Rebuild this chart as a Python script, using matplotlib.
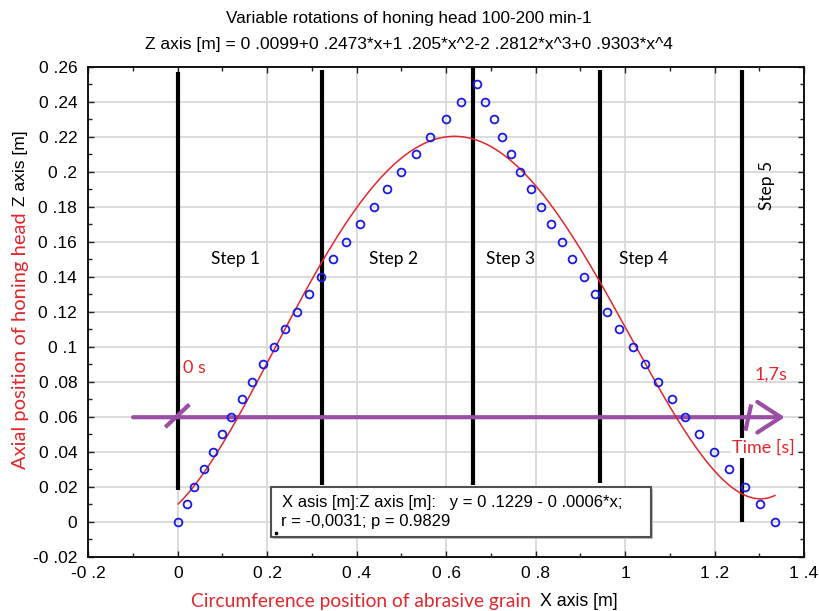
import matplotlib
matplotlib.use('Agg')
import matplotlib.pyplot as plt
import numpy as np
from matplotlib.patches import Rectangle

# ---- data ----
x_up = [0.001, 0.020, 0.037, 0.058, 0.079, 0.099, 0.120, 0.143, 0.166, 0.191,
        0.215, 0.240, 0.266, 0.293, 0.320, 0.347, 0.377, 0.407, 0.438, 0.468,
        0.500, 0.532, 0.565, 0.599, 0.634, 0.669]
z_up = [0.00, 0.01, 0.02, 0.03, 0.04, 0.05, 0.06, 0.07, 0.08, 0.09,
        0.10, 0.11, 0.12, 0.13, 0.14, 0.15, 0.16, 0.17, 0.18, 0.19,
        0.20, 0.21, 0.22, 0.23, 0.24, 0.25]
x_down = [0.687, 0.706, 0.725, 0.745, 0.766, 0.789, 0.812, 0.834, 0.859, 0.882,
          0.908, 0.933, 0.959, 0.987, 1.017, 1.045, 1.074, 1.104, 1.135, 1.165,
          1.199, 1.233, 1.267, 1.301, 1.335]
z_down = [0.24, 0.23, 0.22, 0.21, 0.20, 0.19, 0.18, 0.17, 0.16, 0.15,
          0.14, 0.13, 0.12, 0.11, 0.10, 0.09, 0.08, 0.07, 0.06, 0.05,
          0.04, 0.03, 0.02, 0.01, 0.00]
poly_coef = [0.0099, 0.2473, 1.205, -2.2812, 0.9303]  # from the title

step_x = [0.0, 0.322, 0.659, 0.944, 1.262]
step_bottom = [0.018, 0.021, 0.021, 0.022, 0.0]
step_top = [0.257, 0.258, 0.259, 0.258, 0.258]
step_labels = ['Step 1', 'Step 2', 'Step 3', 'Step 4', 'Step 5']
step_label_x = [0.128, 0.483, 0.745, 1.042, 1.318]
step_label_y = [0.150, 0.150, 0.150, 0.150, 0.192]

time_y = 0.0597
time_start = -0.10
time_end = 1.357

xticks = [-0.2, 0.0, 0.2, 0.4, 0.6, 0.8, 1.0, 1.2, 1.4]
xtick_labels = ['-0 .2', '0', '0 .2', '0 .4', '0 .6', '0 .8', '1', '1 .2', '1 .4']
yticks = [-0.02, 0.0, 0.02, 0.04, 0.06, 0.08, 0.10, 0.12, 0.14, 0.16, 0.18,
          0.20, 0.22, 0.24, 0.26]
ytick_labels = ['-0 .02', '0', '0 .02', '0 .04', '0 .06', '0 .08', '0 .1',
                '0 .12', '0 .14', '0 .16', '0 .18', '0 .2', '0 .22', '0 .24',
                '0 .26']

title1 = 'Variable rotations of honing head 100-200 min-1'
title2 = 'Z axis [m] = 0 .0099+0 .2473*x+1 .205*x^2-2 .2812*x^3+0 .9303*x^4'
box_line1 = 'X asis [m]:Z axis [m]:   y = 0 .1229 - 0 .0006*x;'
box_line2 = 'r = -0,0031; p = 0.9829'

RED = '#e2262b'
PURPLE = '#9a4ea5'
BLUE = '#1a1ae6'
NARROW = ['Liberation Sans Narrow', 'Liberation Sans', 'DejaVu Sans']
ARIAL = ['Liberation Sans', 'DejaVu Sans']
CALIBRI = ['Lato', 'DejaVu Sans']

fig = plt.figure(figsize=(8.19, 6.11), dpi=100)
W, H = 819, 611
ax = fig.add_axes([88.3 / W, 1 - 556.7 / H, (804 - 88.3) / W, (556.7 - 66.7) / H])
ax.set_xlim(-0.2, 1.4)
ax.set_ylim(-0.02, 0.26)

ax.set_xticks(xticks)
ax.set_xticklabels(xtick_labels, family=ARIAL, fontsize=12.5)
ax.set_yticks(yticks)
ax.set_yticklabels(ytick_labels, family=ARIAL, fontsize=12.5)
ax.set_xticks(np.arange(-0.1, 1.4, 0.2), minor=True)
ax.set_yticks(np.arange(-0.01, 0.26, 0.02), minor=True)
ax.tick_params(which='both', direction='in', top=True, right=True, width=1, color='#222222')
ax.tick_params(axis='x', which='major', length=4, pad=7)
ax.tick_params(axis='y', which='major', length=4, pad=8)
ax.tick_params(which='minor', length=3)
ax.grid(True, which='major', color='#d9d9d9', lw=1.3)
ax.set_axisbelow(True)
for s in ax.spines.values():
    s.set_linewidth(1.4)
    s.set_color('#111111')

# step lines
ax.vlines(step_x, step_bottom, step_top, colors='black', lw=3, zorder=2)

# purple time arrow
ax.annotate('', xy=(time_end, time_y), xytext=(time_start, time_y),
            arrowprops=dict(arrowstyle='->,head_length=1.7,head_width=1.1',
                            color=PURPLE, lw=3, shrinkA=0, shrinkB=0,
                            mutation_scale=10), zorder=3)
ax.plot([-0.028, 0.026], [0.054, 0.067], color=PURPLE, lw=3, zorder=3,
        solid_capstyle='butt')
ax.plot([1.269, 1.282], [0.052, 0.067], color=PURPLE, lw=3, zorder=3,
        solid_capstyle='butt')

# fitted curve
x_all = np.array(x_up + x_down)
xc = np.linspace(x_all.min(), x_all.max(), 400)
zc = np.polynomial.polynomial.polyval(xc, poly_coef)
ax.plot(xc, zc, color=RED, lw=1.1, zorder=4)

# data points
ax.plot(x_up + x_down, z_up + z_down, 'o', ms=5.6, mfc='none', mec=BLUE,
        mew=1.3, zorder=5)

# step labels
for lab, lx, ly in zip(step_labels, step_label_x, step_label_y):
    rot = 90 if lab == 'Step 5' else 0
    ax.text(lx, ly, lab, ha='center', va='center', fontsize=12.5,
            family=CALIBRI, rotation=rot, zorder=6)

# time annotations
ax.text(0.012, 0.0878, '0 s', color=RED, fontsize=13, family=CALIBRI,
        ha='left', va='center', zorder=6)
ax.text(1.289, 0.0838, '1,7s', color=RED, fontsize=13, family=CALIBRI,
        ha='left', va='center', zorder=6)
ax.text(1.310, 0.0421, 'Time [s]', color=RED, fontsize=13, family=CALIBRI,
        ha='center', va='center', zorder=6,
        bbox=dict(facecolor='white', edgecolor='none', pad=1))

# regression text box (axes fraction)
bx0, bx1 = (271 - 88.3) / 715.7, (651 - 88.3) / 715.7
by0, by1 = (556.7 - 537) / 490, (556.7 - 487) / 490
ax.add_patch(Rectangle((bx0 + 0.003, by0 - 0.005), bx1 - bx0, by1 - by0,
                       transform=ax.transAxes, facecolor='#bdbdbd',
                       edgecolor='none', zorder=7))
ax.add_patch(Rectangle((bx0, by0), bx1 - bx0, by1 - by0, transform=ax.transAxes,
                       facecolor='white', edgecolor='#505050', lw=1.5, zorder=8))
ax.text((281.5 - 88.3) / 715.7, (556.7 - 502) / 490, box_line1,
        transform=ax.transAxes, fontsize=12, family=ARIAL, ha='left',
        va='center', zorder=9)
ax.text((281 - 88.3) / 715.7, (556.7 - 521.5) / 490, box_line2,
        transform=ax.transAxes, fontsize=12, family=ARIAL, ha='left',
        va='center', zorder=9)
ax.plot([(275.5 - 88.3) / 715.7], [(556.7 - 533) / 490], 's', ms=2,
        color='black', transform=ax.transAxes, zorder=9)

# titles
fig.text(409 / W, 1 - 18 / H, title1, ha='center', va='center',
         fontsize=12.3, family=NARROW)
fig.text(409 / W, 1 - 45 / H, title2, ha='center', va='center',
         fontsize=12.5, family=NARROW)

# axis labels (two colours)
fig.text(531 / W, 1 - 601 / H, 'Circumference position of abrasive grain',
         color=RED, ha='right', va='center', fontsize=13.8, family=CALIBRI)
fig.text(540 / W, 1 - 601 / H, 'X axis [m]', color='black', ha='left',
         va='center', fontsize=12.8, family=NARROW)
fig.text(21 / W, 1 - 212 / H, 'Axial position of honing head', color=RED,
         rotation=90, ha='center', va='top', fontsize=14.5, family=CALIBRI)
fig.text(21 / W, 1 - 206 / H, 'Z axis [m]', color='black', rotation=90,
         ha='center', va='bottom', fontsize=12.5, family=NARROW)

fig.savefig('out.png', dpi=100)
